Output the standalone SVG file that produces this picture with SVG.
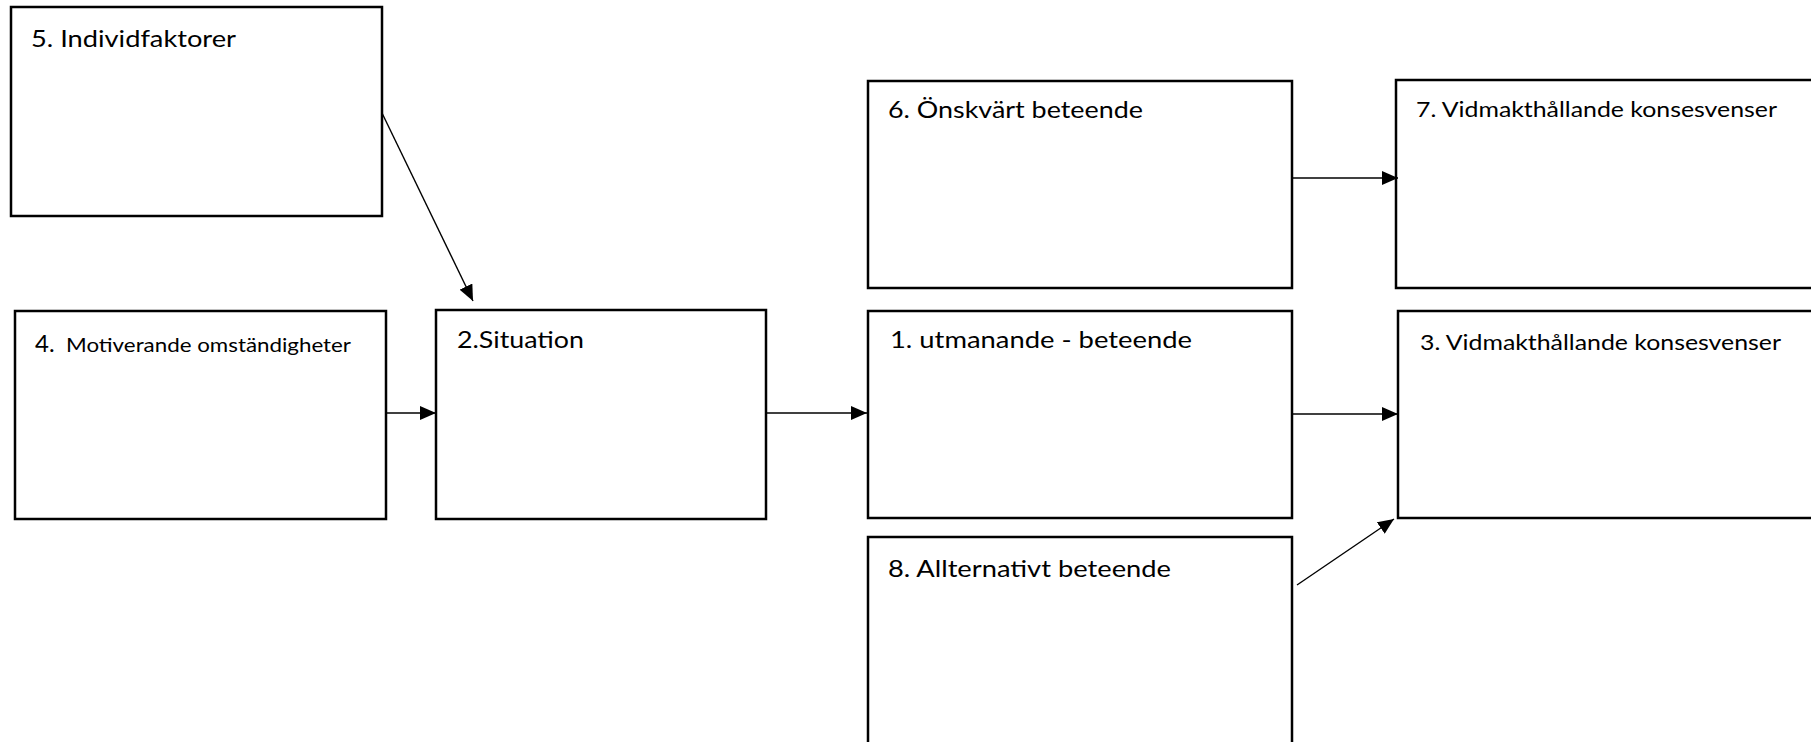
<svg xmlns="http://www.w3.org/2000/svg" width="1811" height="742" viewBox="0 0 1811 742">
  <style>
    .box { fill: #ffffff; stroke: #000000; stroke-width: 2.5; }
    .lbl { font-family: Lato, "Liberation Sans", sans-serif; font-size: 24px; fill: #000000; }
    .sm { font-size: 21px; }
    .conn { stroke: #000000; stroke-width: 1.4; fill: none; marker-end: url(#arrow); }
  </style>
  <defs>
    <marker id="arrow" markerUnits="userSpaceOnUse" markerWidth="16" markerHeight="14" refX="16" refY="7" orient="auto">
      <path d="M0,0 L16,7 L0,14 Z" fill="#000000"/>
    </marker>
  </defs>
  <rect x="0" y="0" width="1811" height="742" fill="#ffffff"/>

  <g id="node5">
    <rect class="box" x="11" y="7" width="371" height="209"/>
    <text class="lbl" x="31" y="47" textLength="205" lengthAdjust="spacingAndGlyphs">5. Individfaktorer</text>
  </g>
  <g id="node4">
    <rect class="box" x="15" y="311" width="371" height="208"/>
    <text class="lbl" x="35" y="352"><tspan font-size="24">4.</tspan><tspan x="66" font-size="20" textLength="285" lengthAdjust="spacingAndGlyphs">Motiverande omständigheter</tspan></text>
  </g>
  <g id="node2">
    <rect class="box" x="436" y="310" width="330" height="209"/>
    <text class="lbl" x="457" y="348" textLength="127" lengthAdjust="spacingAndGlyphs">2.Situation</text>
  </g>
  <g id="node6">
    <rect class="box" x="868" y="81" width="424" height="207"/>
    <text class="lbl" x="888" y="118" textLength="255" lengthAdjust="spacingAndGlyphs">6. Önskvärt beteende</text>
  </g>
  <g id="node1">
    <rect class="box" x="868" y="311" width="424" height="207"/>
    <text class="lbl" x="890" y="348" textLength="302" lengthAdjust="spacingAndGlyphs">1. utmanande - beteende</text>
  </g>
  <g id="node8">
    <rect class="box" x="868" y="537" width="424" height="230"/>
    <text class="lbl" x="888" y="577" textLength="283" lengthAdjust="spacingAndGlyphs">8. Allternativt beteende</text>
  </g>
  <g id="node7">
    <rect class="box" x="1396" y="80" width="440" height="208"/>
    <text class="lbl sm" x="1416" y="117" textLength="361" lengthAdjust="spacingAndGlyphs">7. Vidmakthållande konsesvenser</text>
  </g>
  <g id="node3">
    <rect class="box" x="1398" y="311" width="440" height="207"/>
    <text class="lbl sm" x="1420" y="350" textLength="361" lengthAdjust="spacingAndGlyphs">3. Vidmakthållande konsesvenser</text>
  </g>

  <g id="connectors">
    <line class="conn" x1="382" y1="113" x2="473" y2="301"/>
    <line class="conn" x1="386" y1="413" x2="436" y2="413"/>
    <line class="conn" x1="766" y1="413" x2="867" y2="413"/>
    <line class="conn" x1="1292" y1="178" x2="1398" y2="178"/>
    <line class="conn" x1="1292" y1="414" x2="1398" y2="414"/>
    <line class="conn" x1="1297" y1="585" x2="1394" y2="519"/>
  </g>
</svg>
